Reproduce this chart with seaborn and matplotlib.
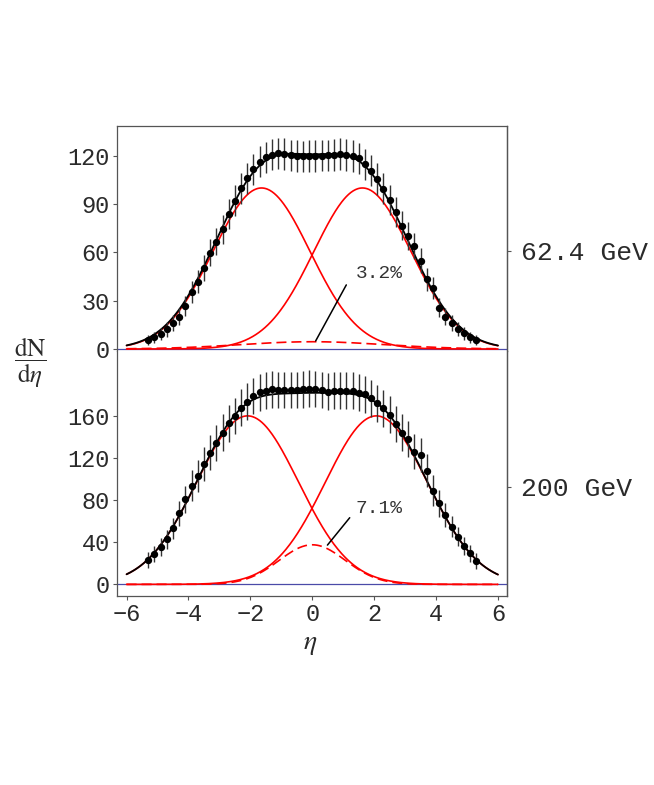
import numpy as np
import pandas as pd
import matplotlib.pyplot as plt
import seaborn as sns

## data
eta_bins = np.round(np.arange(-5.3, 5.31, 0.2), 1)

dndeta_624 = [5.6, 7.2, 9.3, 12.2, 16.4, 20.1, 26.7, 35.6, 41.8, 50.1, 59.8, 66.7, 74.5, 83.9,
              92.1, 99.8, 106.0, 111.6, 116.4, 119.0, 120.7, 121.5, 121.0, 120.2, 119.8, 119.6, 119.9,
              119.9, 120.1, 120.3, 120.5, 121.0, 120.5, 119.9, 118.4, 114.7, 110.8, 105.6, 99.4,
              92.5, 84.9, 76.4, 70.2, 64.0, 54.9, 43.3, 37.7, 25.7, 20.1, 16.0, 12.4, 9.8, 7.3, 5.6]
err_624 = [3.2, 3.5, 4.0, 4.5, 5.0, 5.5, 6.0, 6.8, 7.3, 8.0, 8.3, 8.5, 9.0, 9.2, 9.5, 9.6, 9.8,
           9.8, 9.8, 9.8, 9.8, 9.8, 9.8, 9.8, 9.8, 9.8, 9.8, 9.8, 9.8, 9.8, 9.8, 9.8, 9.8, 9.8,
           9.8, 9.8, 9.8, 9.8, 9.6, 9.5, 9.2, 9.0, 8.5, 8.3, 8.0, 7.3, 6.8, 6.0, 5.5, 5.0, 4.5,
           4.0, 3.5, 3.2]

dndeta_200 = [23.1, 28.8, 35.8, 43.0, 53.2, 67.4, 80.7, 93.7, 102.9, 114.3, 125.1, 133.9, 144.1,
              152.9, 159.9, 167.8, 173.5, 178.9, 182.4, 184.0, 185.2, 184.6, 184.6, 184.6, 184.6,
              185.2, 185.8, 185.5, 184.6, 183.0, 183.7, 183.7, 183.7, 183.7, 182.0, 180.5, 176.7,
              172.0, 167.2, 160.9, 152.3, 144.1, 137.7, 126.0, 122.8, 108.0, 89.0, 77.0, 65.9,
              54.8, 45.3, 36.4, 29.5, 22.4]
err_200 = [7.5, 8.0, 8.5, 9.0, 10.0, 11.5, 13.0, 14.5, 15.5, 16.0, 16.5, 17.0, 17.3, 17.5, 17.5,
           17.5, 17.5, 17.5, 17.5, 17.5, 17.5, 17.5, 17.5, 17.5, 17.5, 17.5, 17.5, 17.5, 17.5,
           17.5, 17.5, 17.5, 17.5, 17.5, 17.5, 17.5, 17.5, 17.5, 17.5, 17.5, 17.5, 17.3, 17.0,
           16.5, 16.0, 15.5, 14.5, 13.0, 11.5, 10.0, 9.0, 8.5, 8.0, 7.5]

# model components (target, projectile, central source): height, centroid, width
amp_624 = [100.0, 100.0, 4.5]
mu_624 = [-1.64, 1.62, 0.0]
sig_624 = [1.567, 1.567, 2.3]

amp_200 = [160.0, 160.0, 37.6]
mu_200 = [-2.09, 2.07, 0.0]
sig_200 = [1.648, 1.648, 1.07]

energy_labels = ['62.4 GeV', '200 GeV']
energy_label_pos = [61, 92.7]
fractions = ['3.2%', '7.1%']
pointer_tip = [(0.11, 5.0), (0.49, 37.3)]
pointer_tail = [(1.10, 39.8), (1.21, 63.3)]
fraction_pos = [(1.40, 46.9), (1.40, 72.5)]

## style
sns.set_style('ticks')
plt.rcParams['font.family'] = ['Liberation Mono', 'DejaVu Sans']
plt.rcParams['mathtext.fontset'] = 'stix'
frame_col = '#555555'
text_col = '#2a2a2a'

fig = plt.figure(figsize=(6.54, 7.85), dpi=100)
ax_top = fig.add_axes([0.1784, 0.5534, 0.5972, 0.2861])
ax_bot = fig.add_axes([0.1784, 0.2408, 0.5972, 0.3126], sharex=ax_top)

eta_fine = np.linspace(-6, 6, 481)

panels = [
    (ax_top, dndeta_624, err_624, amp_624, mu_624, sig_624, (-1.0, 138.5), [0, 30, 60, 90, 120]),
    (ax_bot, dndeta_200, err_200, amp_200, mu_200, sig_200, (-11.0, 222.0), [0, 40, 80, 120, 160]),
]

for i, (ax, vals, errs, amp, mu, sig, ylim, yticks) in enumerate(panels):
    comps = [a * np.exp(-(eta_fine - m) ** 2 / (2 * s ** 2)) for a, m, s in zip(amp, mu, sig)]
    df = pd.DataFrame({'eta': eta_fine, 'left': comps[0], 'right': comps[1],
                       'central': comps[2], 'total': comps[0] + comps[1] + comps[2]})

    ax.axhline(0, color='#4a4aa8', lw=0.9, zorder=1)
    sns.lineplot(x='eta', y='left', data=df, ax=ax, color='red', lw=1.2, estimator=None)
    sns.lineplot(x='eta', y='right', data=df, ax=ax, color='red', lw=1.2, estimator=None)
    sns.lineplot(x='eta', y='central', data=df, ax=ax, color='red', lw=1.2, estimator=None,
                 linestyle=(0, (6, 3)))
    sns.lineplot(x='eta', y='total', data=df, ax=ax, color='black', lw=1.3, estimator=None)

    ax.errorbar(eta_bins, vals, yerr=errs, fmt='none', ecolor='#333333', elinewidth=1.0, zorder=4)
    sns.scatterplot(x=eta_bins, y=vals, ax=ax, color='black', s=28, edgecolor='black',
                    linewidth=0, zorder=5)

    ax.annotate('', xy=pointer_tip[i], xytext=pointer_tail[i],
                arrowprops=dict(arrowstyle='-', color='black', lw=1.1, shrinkA=0, shrinkB=0))
    ax.text(fraction_pos[i][0], fraction_pos[i][1], fractions[i], fontsize=14,
            color='#333333', ha='left', va='center')

    ax.set_xlim(-6.32, 6.30)
    ax.set_ylim(*ylim)
    ax.set_yticks(yticks)
    ax.set_xlabel('')
    ax.set_ylabel('')
    ax.tick_params(axis='y', labelsize=17, length=3, width=0.8, pad=2, color=frame_col,
                   labelcolor=text_col)
    for sp in ax.spines.values():
        sp.set_color(frame_col)
        sp.set_linewidth(0.9)

    sec = ax.secondary_yaxis('right')
    sec.set_ticks([energy_label_pos[i]], labels=[energy_labels[i]])
    sec.tick_params(labelsize=19, length=3, width=0.8, pad=7, color=frame_col,
                    labelcolor=text_col)
    sec.spines['right'].set_color(frame_col)
    sec.spines['right'].set_linewidth(0.9)

ax_top.spines['bottom'].set_visible(False)
ax_bot.spines['top'].set_visible(False)
ax_top.tick_params(axis='x', bottom=False, labelbottom=False)
ax_bot.set_xticks([-6, -4, -2, 0, 2, 4, 6])
ax_bot.tick_params(axis='x', labelsize=17, length=3, width=0.8, pad=2, color=frame_col,
                   labelcolor=text_col)

fig.text(310.5 / 654, 1 - 644 / 785, r'$\eta$', fontsize=20, ha='center', va='center',
         color=text_col)
fig.text(30 / 654, 1 - 363 / 785, r'$\dfrac{\mathrm{dN}}{\mathrm{d}\eta}$', fontsize=18,
         ha='center', va='center', color=text_col)

plt.savefig('out.png', dpi=100)
